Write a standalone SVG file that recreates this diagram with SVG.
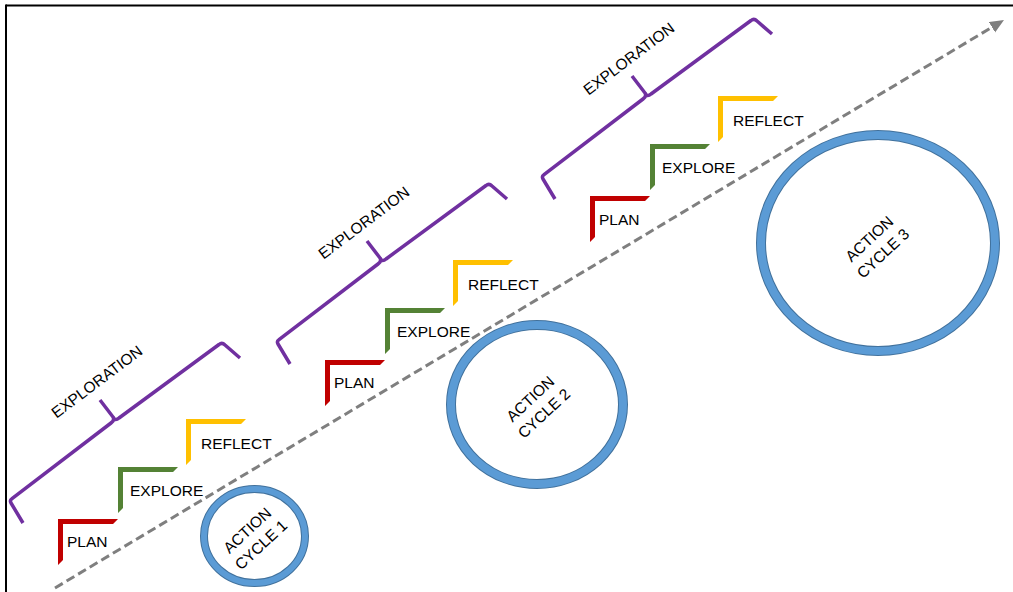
<svg xmlns="http://www.w3.org/2000/svg" xmlns:xlink="http://www.w3.org/1999/xlink" width="1013" height="592" viewBox="0 0 1013 592">
  <style>
    .lbl { font-family: "Liberation Sans", Arial, sans-serif; font-size: 15.5px; fill: #000000; }
    .brace { fill: none; stroke: #7030A0; stroke-width: 3.5; stroke-linejoin: round; stroke-linecap: butt; }
    .ringEdge { fill: none; stroke: #41719C; }
    .ring { fill: none; stroke: #5B9BD5; }
    .flow { fill: none; stroke: #7F7F7F; stroke-width: 3; stroke-dasharray: 9 4.5; }
    .plan { fill: #C00000; }
    .explore { fill: #548235; }
    .reflect { fill: #FFC000; }
  </style>
  <defs>
    <polygon id="step" points="0,0 60,0 55,5 5,5 5,41 0,46"/>
    <path id="brace" d="M 23,523 L 11,503 Q 9.5,500.5 12,498.7 L 111,423 Q 115,420 113,417 L 100,400 M 113,417 Q 115,421.5 119,418 L 219,344.5 Q 222,342 225,345 L 240,358"/>
    <marker id="arrow" markerUnits="userSpaceOnUse" markerWidth="16" markerHeight="14" refX="2" refY="6" orient="auto">
      <path d="M0,0 L14,6 L0,12 z" fill="#7F7F7F"/>
    </marker>
  </defs>

  <rect x="0" y="0" width="1013" height="592" fill="#FFFFFF"/>

  <g id="frame" stroke="#000000" stroke-width="2" fill="none">
    <line x1="6" y1="5.5" x2="1013" y2="5.5"/>
    <line x1="6" y1="4.5" x2="6" y2="592"/>
  </g>

  <g id="connectors">
    <line class="flow" x1="55" y1="588" x2="993.7" y2="26.2" marker-end="url(#arrow)"/>
  </g>

  <!-- Phase 1 -->
  <g id="bracket-1">
    <use xlink:href="#brace" href="#brace" class="brace"/>
    <text class="lbl" text-anchor="middle" transform="translate(100,386) rotate(-37)">EXPLORATION</text>
  </g>
  <g id="plan-1">
    <use xlink:href="#step" href="#step" class="plan" x="58" y="519"/>
    <text class="lbl" x="67" y="547">PLAN</text>
  </g>
  <g id="explore-1">
    <use xlink:href="#step" href="#step" class="explore" x="118" y="467"/>
    <text class="lbl" x="130" y="496">EXPLORE</text>
  </g>
  <g id="reflect-1">
    <use xlink:href="#step" href="#step" class="reflect" x="186" y="419"/>
    <text class="lbl" x="201" y="449">REFLECT</text>
  </g>

  <!-- Phase 2 -->
  <g id="bracket-2">
    <use xlink:href="#brace" href="#brace" class="brace" transform="translate(267,-159)"/>
    <text class="lbl" text-anchor="middle" transform="translate(367,227) rotate(-37)">EXPLORATION</text>
  </g>
  <g id="plan-2">
    <use xlink:href="#step" href="#step" class="plan" x="325" y="360"/>
    <text class="lbl" x="334" y="388">PLAN</text>
  </g>
  <g id="explore-2">
    <use xlink:href="#step" href="#step" class="explore" x="385" y="308"/>
    <text class="lbl" x="397" y="337">EXPLORE</text>
  </g>
  <g id="reflect-2">
    <use xlink:href="#step" href="#step" class="reflect" x="453" y="260"/>
    <text class="lbl" x="468" y="290">REFLECT</text>
  </g>

  <!-- Phase 3 -->
  <g id="bracket-3">
    <use xlink:href="#brace" href="#brace" class="brace" transform="translate(532,-324)"/>
    <text class="lbl" text-anchor="middle" transform="translate(632,63) rotate(-37)">EXPLORATION</text>
  </g>
  <g id="plan-3">
    <use xlink:href="#step" href="#step" class="plan" x="590" y="196"/>
    <text class="lbl" x="599" y="225">PLAN</text>
  </g>
  <g id="explore-3">
    <use xlink:href="#step" href="#step" class="explore" x="650" y="144"/>
    <text class="lbl" x="662" y="173">EXPLORE</text>
  </g>
  <g id="reflect-3">
    <use xlink:href="#step" href="#step" class="reflect" x="718" y="96"/>
    <text class="lbl" x="733" y="126">REFLECT</text>
  </g>

  <!-- Action cycles -->
  <g id="cycle-1">
    <ellipse class="ringEdge" cx="254.5" cy="536" rx="50.5" ry="47" stroke-width="8"/>
    <ellipse class="ring" cx="254.5" cy="536" rx="50.5" ry="47" stroke-width="6"/>
    <g transform="translate(254,537.5) rotate(-43)">
      <text class="lbl" text-anchor="middle" x="0" y="-4.5">ACTION</text>
      <text class="lbl" text-anchor="middle" x="0" y="15.5">CYCLE 1</text>
    </g>
  </g>
  <g id="cycle-2">
    <ellipse class="ringEdge" cx="537" cy="404.5" rx="86" ry="79.5" stroke-width="10"/>
    <ellipse class="ring" cx="537" cy="404.5" rx="86" ry="79.5" stroke-width="8"/>
    <g transform="translate(537,406) rotate(-43)">
      <text class="lbl" text-anchor="middle" x="0" y="-4.5">ACTION</text>
      <text class="lbl" text-anchor="middle" x="0" y="15.5">CYCLE 2</text>
    </g>
  </g>
  <g id="cycle-3">
    <ellipse class="ringEdge" cx="878" cy="243" rx="117" ry="108" stroke-width="10"/>
    <ellipse class="ring" cx="878" cy="243" rx="117" ry="108" stroke-width="8"/>
    <g transform="translate(876,246) rotate(-43)">
      <text class="lbl" text-anchor="middle" x="0" y="-4.5">ACTION</text>
      <text class="lbl" text-anchor="middle" x="0" y="15.5">CYCLE 3</text>
    </g>
  </g>
</svg>
